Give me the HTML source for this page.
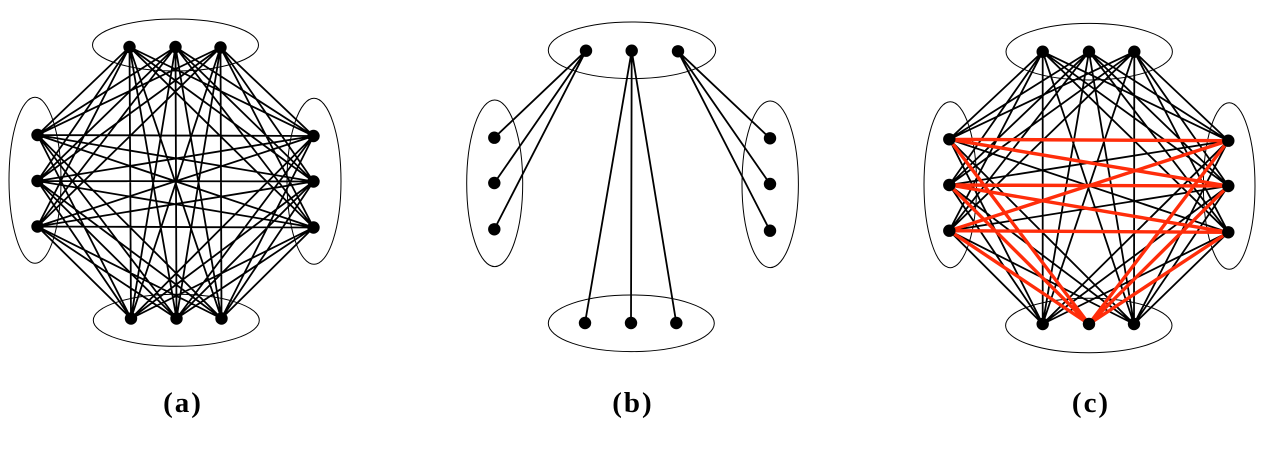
<!DOCTYPE html>
<html>
<head>
<meta charset="utf-8">
<style>
html,body{margin:0;padding:0;background:#fff;}
body{width:1261px;height:462px;overflow:hidden;}
svg{display:block;}
</style>
</head>
<body>
<svg width="1261" height="462" viewBox="0 0 1261 462" xmlns="http://www.w3.org/2000/svg">
<rect width="1261" height="462" fill="#fff"/>

<!-- ================= Panel (a) ================= -->
<g fill="none" stroke="#000" stroke-width="1">
  <ellipse cx="175.5" cy="45" rx="83" ry="26"/>
  <ellipse cx="176.3" cy="320.3" rx="83" ry="26"/>
  <ellipse cx="35" cy="180.3" rx="26" ry="83"/>
  <ellipse cx="314" cy="181.3" rx="27" ry="83"/>
</g>
<path fill="none" stroke="#000" stroke-width="1.8" d="
M129.5 47L37.5 135 M129.5 47L37.5 181 M129.5 47L37.5 226.5
M175.5 47L37.5 135 M175.5 47L37.5 181 M175.5 47L37.5 226.5
M220.5 47.5L37.5 135 M220.5 47.5L37.5 181 M220.5 47.5L37.5 226.5
M129.5 47L313.5 136 M129.5 47L313.5 181.5 M129.5 47L313.5 227.5
M175.5 47L313.5 136 M175.5 47L313.5 181.5 M175.5 47L313.5 227.5
M220.5 47.5L313.5 136 M220.5 47.5L313.5 181.5 M220.5 47.5L313.5 227.5
M129.5 47L131 318.5 M129.5 47L176.5 318.5 M129.5 47L221.5 318.5
M175.5 47L131 318.5 M175.5 47L176.5 318.5 M175.5 47L221.5 318.5
M220.5 47.5L131 318.5 M220.5 47.5L176.5 318.5 M220.5 47.5L221.5 318.5
M37.5 135L313.5 136 M37.5 135L313.5 181.5 M37.5 135L313.5 227.5
M37.5 181L313.5 136 M37.5 181L313.5 181.5 M37.5 181L313.5 227.5
M37.5 226.5L313.5 136 M37.5 226.5L313.5 181.5 M37.5 226.5L313.5 227.5
M37.5 135L131 318.5 M37.5 135L176.5 318.5 M37.5 135L221.5 318.5
M37.5 181L131 318.5 M37.5 181L176.5 318.5 M37.5 181L221.5 318.5
M37.5 226.5L131 318.5 M37.5 226.5L176.5 318.5 M37.5 226.5L221.5 318.5
M313.5 136L131 318.5 M313.5 136L176.5 318.5 M313.5 136L221.5 318.5
M313.5 181.5L131 318.5 M313.5 181.5L176.5 318.5 M313.5 181.5L221.5 318.5
M313.5 227.5L131 318.5 M313.5 227.5L176.5 318.5 M313.5 227.5L221.5 318.5
"/>
<g fill="#000">
  <circle cx="129.5" cy="47" r="6.2"/><circle cx="175.5" cy="47" r="6.2"/><circle cx="220.5" cy="47.5" r="6.2"/>
  <circle cx="37.5" cy="135" r="6.2"/><circle cx="37.5" cy="181" r="6.2"/><circle cx="37.5" cy="226.5" r="6.2"/>
  <circle cx="313.5" cy="136" r="6.2"/><circle cx="313.5" cy="181.5" r="6.2"/><circle cx="313.5" cy="227.5" r="6.2"/>
  <circle cx="131" cy="318.5" r="6.2"/><circle cx="176.5" cy="318.5" r="6.2"/><circle cx="221.5" cy="318.5" r="6.2"/>
</g>

<!-- ================= Panel (b) ================= -->
<g fill="none" stroke="#000" stroke-width="1">
  <ellipse cx="632" cy="50.3" rx="83.7" ry="28.3"/>
  <ellipse cx="631.3" cy="323.3" rx="83" ry="28.3"/>
  <ellipse cx="494.7" cy="183.3" rx="28" ry="83.3"/>
  <ellipse cx="770.2" cy="184.3" rx="28.2" ry="83.3"/>
</g>
<path fill="none" stroke="#000" stroke-width="1.8" d="
M586 50.7L494.3 137.7 M586 50.7L494.3 183 M586 50.7L494.3 229.3
M631.7 50.7L585 323 M631.7 50.7L631 323 M631.7 50.7L676.3 323
M678 51.3L770 138.3 M678 51.3L770 184 M678 51.3L770 230.7
"/>
<g fill="#000">
  <circle cx="586" cy="50.7" r="6.2"/><circle cx="631.7" cy="50.7" r="6.2"/><circle cx="678" cy="51.3" r="6.2"/>
  <circle cx="494.3" cy="137.7" r="6.2"/><circle cx="494.3" cy="183" r="6.2"/><circle cx="494.3" cy="229.3" r="6.2"/>
  <circle cx="770" cy="138.3" r="6.2"/><circle cx="770" cy="184" r="6.2"/><circle cx="770" cy="230.7" r="6.2"/>
  <circle cx="585" cy="323" r="6.2"/><circle cx="631" cy="323" r="6.2"/><circle cx="676.3" cy="323" r="6.2"/>
</g>

<!-- ================= Panel (c) ================= -->
<g fill="none" stroke="#000" stroke-width="1">
  <ellipse cx="1089.2" cy="51.7" rx="83.2" ry="28.3"/>
  <ellipse cx="1088.8" cy="325.5" rx="83.2" ry="27.2"/>
  <ellipse cx="950.3" cy="184.7" rx="26.3" ry="83"/>
  <ellipse cx="1229.2" cy="186" rx="25.8" ry="83.3"/>
</g>
<path fill="none" stroke="#000" stroke-width="1.8" d="
M1042.7 51.7L949.3 139.3 M1042.7 51.7L949.3 185 M1042.7 51.7L949.3 230.7
M1089 51.7L949.3 139.3 M1089 51.7L949.3 185 M1089 51.7L949.3 230.7
M1134.3 51.7L949.3 139.3 M1134.3 51.7L949.3 185 M1134.3 51.7L949.3 230.7
M1042.7 51.7L1228.3 140.7 M1042.7 51.7L1228.3 186 M1042.7 51.7L1228.3 232.3
M1089 51.7L1228.3 140.7 M1089 51.7L1228.3 186 M1089 51.7L1228.3 232.3
M1134.3 51.7L1228.3 140.7 M1134.3 51.7L1228.3 186 M1134.3 51.7L1228.3 232.3
M1042.7 51.7L1042.7 324 M1042.7 51.7L1134 324
M1089 51.7L1042.7 324 M1089 51.7L1134 324
M1134.3 51.7L1042.7 324 M1134.3 51.7L1134 324
M949.3 139.3L1042.7 324 M949.3 139.3L1134 324
M949.3 185L1042.7 324 M949.3 185L1134 324
M949.3 230.7L1042.7 324 M949.3 230.7L1134 324
M1228.3 140.7L1042.7 324 M1228.3 140.7L1134 324
M1228.3 186L1042.7 324 M1228.3 186L1134 324
M1228.3 232.3L1042.7 324 M1228.3 232.3L1134 324
M949.3 139.3L1228.3 232.3 M949.3 185L1228.3 140.7 M949.3 230.7L1228.3 186
"/>
<path fill="none" stroke="#ff2d0a" stroke-width="3.4" stroke-linecap="round" d="
M949.3 139.3L1228.3 140.7 M949.3 185L1228.3 186 M949.3 230.7L1228.3 232.3
M949.3 139.3L1228.3 186 M949.3 185L1228.3 232.3 M949.3 230.7L1228.3 140.7
M949.3 139.3L1089 324 M949.3 185L1089 324 M949.3 230.7L1089 324
M1228.3 140.7L1089 324 M1228.3 186L1089 324 M1228.3 232.3L1089 324
"/>
<g fill="#000">
  <circle cx="1042.7" cy="51.7" r="6.2"/><circle cx="1089" cy="51.7" r="6.2"/><circle cx="1134.3" cy="51.7" r="6.2"/>
  <circle cx="949.3" cy="139.3" r="6.2"/><circle cx="949.3" cy="185" r="6.2"/><circle cx="949.3" cy="230.7" r="6.2"/>
  <circle cx="1228.3" cy="140.7" r="6.2"/><circle cx="1228.3" cy="186" r="6.2"/><circle cx="1228.3" cy="232.3" r="6.2"/>
  <circle cx="1042.7" cy="324" r="6.2"/><circle cx="1089" cy="324" r="6.2"/><circle cx="1134" cy="324" r="6.2"/>
</g>

<!-- ================= Labels ================= -->
<g font-family="'Liberation Serif', 'DejaVu Serif', serif" font-weight="bold" font-size="29" fill="#000" text-anchor="middle" letter-spacing="2">
  <text x="183" y="412">(a)</text>
  <text x="633" y="412">(b)</text>
  <text x="1091" y="412">(c)</text>
</g>
</svg>
</body>
</html>
